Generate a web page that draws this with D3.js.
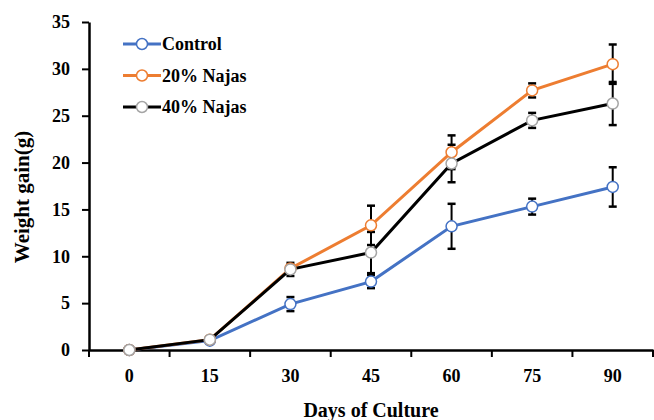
<!DOCTYPE html>
<html>
<head>
<meta charset="utf-8">
<script src="https://cdn.jsdelivr.net/npm/d3@7"></script>
<style>
  body { margin: 0; background: #fff; }
</style>
</head>
<body>
<div id="chart"></div>
<script>
// 배양 일수별 체중 증가 — 3개 처리구 + 오차막대
const days = ['0', '15', '30', '45', '60', '75', '90'];
const control = [0, 1.0, 4.9, 7.3, 13.2, 15.3, 17.4];
const controlErr = [0, 0.2, 0.75, 0.7, 2.4, 0.85, 2.1];
const najas20 = [0, 1.1, 8.7, 13.3, 21.1, 27.7, 30.5];
const najas20Err = [0, 0.2, 0.3, 2.1, 1.8, 0.75, 2.1];
const najas40 = [0, 1.1, 8.6, 10.4, 19.9, 24.5, 26.3];
const najas40Err = [0, 0.2, 0.7, 2.2, 2.0, 0.8, 2.3];
const yTicks = [0, 5, 10, 15, 20, 25, 30, 35];

const series = [
  { name: 'Control', vals: control, err: controlErr, color: '#4472C4', mk: '#4472C4' },
  { name: '20% Najas', vals: najas20, err: najas20Err, color: '#ED7D31', mk: '#ED7D31' },
  { name: '40% Najas', vals: najas40, err: najas40Err, color: '#000000', mk: '#A5A5A5' },
];

const FONT = '"Liberation Serif", "Times New Roman", "DejaVu Serif", serif';
const W = 654, H = 420;
const m = { top: 22, right: 1, bottom: 70, left: 89 };

const svg = d3.select('#chart').append('svg')
  .attr('width', W).attr('height', H)
  .attr('font-family', FONT).attr('font-weight', 'bold');

const x = d3.scaleBand().domain(days).range([m.left, W - m.right]);
const y = d3.scaleLinear().domain([0, 35]).range([H - m.bottom, m.top]);
const cx = d => x(d) + x.bandwidth() / 2;

// 축
const gx = svg.append('g').attr('transform', `translate(0,${H - m.bottom})`)
  .call(d3.axisBottom(x).tickSize(0).tickPadding(19));
gx.attr('font-family', FONT).attr('font-size', 18);
gx.select('.domain').attr('stroke', '#000').attr('stroke-width', 2.5);
gx.selectAll('text').attr('fill', '#000');
// 범주 경계 눈금
gx.selectAll('line.sep').data(days.concat(['end']))
  .join('line').attr('class', 'sep')
  .attr('x1', (d, i) => i < days.length ? x(d) : x.range()[1])
  .attr('x2', (d, i) => i < days.length ? x(d) : x.range()[1])
  .attr('y1', 0).attr('y2', 7)
  .attr('stroke', '#000').attr('stroke-width', 2);

const gy = svg.append('g').attr('transform', `translate(${m.left},0)`)
  .call(d3.axisLeft(y).tickValues(yTicks).tickSize(7).tickSizeOuter(0).tickPadding(12));
gy.attr('font-family', FONT).attr('font-size', 18);
gy.select('.domain').attr('stroke', '#000').attr('stroke-width', 2.5);
gy.selectAll('.tick line').attr('stroke', '#000').attr('stroke-width', 2);
gy.selectAll('text').attr('fill', '#000');

// 오차막대
const gErr = svg.append('g');
series.forEach(s => {
  s.vals.forEach((v, i) => {
    const e = s.err[i];
    if (!e) return;
    const px = cx(days[i]);
    gErr.append('line').attr('x1', px).attr('x2', px)
      .attr('y1', y(v - e)).attr('y2', y(v + e))
      .attr('stroke', '#000').attr('stroke-width', 2);
    [v - e, v + e].forEach(t => {
      gErr.append('line').attr('x1', px - 4).attr('x2', px + 4)
        .attr('y1', y(t)).attr('y2', y(t))
        .attr('stroke', '#000').attr('stroke-width', 2.5);
    });
  });
});

// 선 + 마커
const line = d3.line().x((d, i) => cx(days[i])).y(d => y(d));
series.forEach(s => {
  svg.append('path').datum(s.vals)
    .attr('d', line).attr('fill', 'none')
    .attr('stroke', s.color).attr('stroke-width', 3);
});
series.forEach(s => {
  svg.append('g').selectAll('circle').data(s.vals).join('circle')
    .attr('cx', (d, i) => cx(days[i])).attr('cy', d => y(d))
    .attr('r', 5.5).attr('fill', '#fff')
    .attr('stroke', s.mk).attr('stroke-width', 1.5);
});

// 범례
const lg = svg.append('g');
series.forEach((s, i) => {
  const ly = 44 + i * 31.5;
  lg.append('line').attr('x1', 123).attr('x2', 161).attr('y1', ly).attr('y2', ly)
    .attr('stroke', s.color).attr('stroke-width', 3);
  lg.append('circle').attr('cx', 142).attr('cy', ly).attr('r', 5.5)
    .attr('fill', '#fff').attr('stroke', s.mk).attr('stroke-width', 1.5);
  lg.append('text').attr('x', 162).attr('y', ly + 6)
    .attr('font-size', 18).text(s.name);
});

// 축 제목
svg.append('text')
  .attr('x', (m.left + W - m.right) / 2).attr('y', 417)
  .attr('text-anchor', 'middle').attr('font-size', 20)
  .text('Days of Culture');
svg.append('text')
  .attr('transform', `translate(29,197) rotate(-90)`)
  .attr('text-anchor', 'middle').attr('font-size', 21)
  .text('Weight gain(g)');
</script>
</body>
</html>
